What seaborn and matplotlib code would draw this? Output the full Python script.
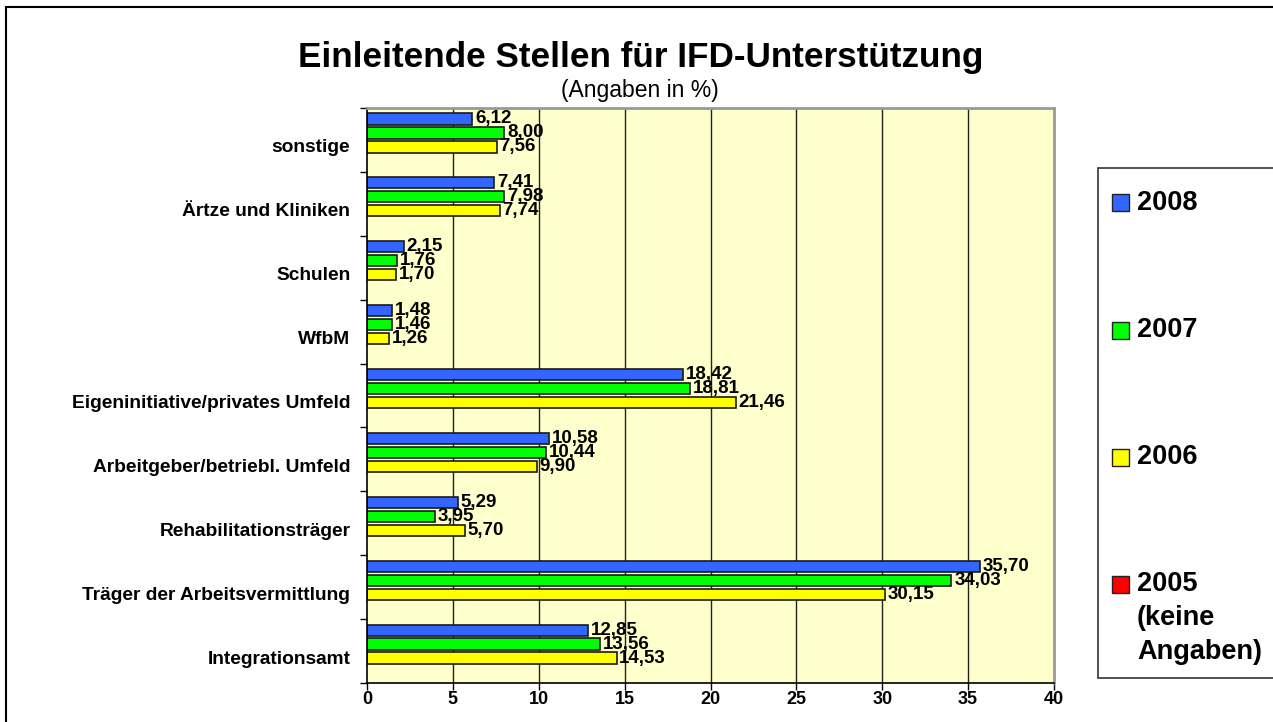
import numpy as np
import pandas as pd
import seaborn as sns
import matplotlib.pyplot as plt
import matplotlib.transforms as mtransforms
from matplotlib.patches import Rectangle

# Daten
stellen = [
    "sonstige",
    "Ärtze und Kliniken",
    "Schulen",
    "WfbM",
    "Eigeninitiative/privates Umfeld",
    "Arbeitgeber/betriebl. Umfeld",
    "Rehabilitationsträger",
    "Träger der Arbeitsvermittlung",
    "Integrationsamt",
]
jahre = ["2008", "2007", "2006", "2005"]
werte_2008 = [6.12, 7.41, 2.15, 1.48, 18.42, 10.58, 5.29, 35.70, 12.85]
werte_2007 = [8.00, 7.98, 1.76, 1.46, 18.81, 10.44, 3.95, 34.03, 13.56]
werte_2006 = [7.56, 7.74, 1.70, 1.26, 21.46, 9.90, 5.70, 30.15, 14.53]
werte_2005 = [np.nan] * len(stellen)  # keine Angaben
legend_labels = ["2008", "2007", "2006", "2005\n(keine\nAngaben)"]
x_ticks = [0, 5, 10, 15, 20, 25, 30, 35, 40]

farben = {"2008": "#3366FF", "2007": "#00FF00", "2006": "#FFFF00", "2005": "#FF0000"}

df = pd.DataFrame({
    "Stelle": stellen * 4,
    "Jahr": np.repeat(jahre, len(stellen)),
    "Wert": werte_2008 + werte_2007 + werte_2006 + werte_2005,
})

sns.set_theme(style="white")
plt.rcParams["font.family"] = ["Liberation Sans", "DejaVu Sans"]
plt.rcParams["text.color"] = "black"
plt.rcParams["xtick.color"] = "black"
plt.rcParams["ytick.color"] = "black"

W, H = 1273, 722
fig = plt.figure(figsize=(W / 100, H / 100), dpi=100)
ax = fig.add_axes([367 / W, 1 - 683 / H, (1054 - 367) / W, (683 - 108) / H])
ax.set_facecolor("#FFFFCC")

sns.barplot(
    data=df, x="Wert", y="Stelle", hue="Jahr",
    order=stellen, hue_order=jahre, palette=farben, saturation=1,
    orient="h", width=0.875, gap=0.2,
    edgecolor="#1a1a1a", linewidth=1.2,
    errorbar=None, legend=False, ax=ax,
)

# Werte an den Balken
shift_lab = mtransforms.ScaledTranslation(0, -0.035, fig.dpi_scale_trans)
for cont in ax.containers:
    if len(cont) == 0:
        continue
    texts = ax.bar_label(
        cont, fmt=lambda v: f"{v:.2f}".replace(".", ","),
        padding=2, fontsize=13.5, fontweight="bold", color="black",
    )
    for t in texts:
        t.set_transform(t.get_transform() + shift_lab)

# Gitter und Achsen
ax.set_xlim(0, 40)
ax.set_ylim(len(stellen) - 0.5, -0.5)
ax.set_xticks(x_ticks)
ax.set_xticklabels([str(t) for t in x_ticks], fontsize=13, fontweight="bold")
for t in x_ticks[1:-1]:
    ax.axvline(t, color="#222222", lw=1, zorder=0.5)
ax.set_axisbelow(True)

ax.set_yticks(np.arange(-0.5, len(stellen), 1.0), minor=True)
ax.tick_params(axis="y", which="minor", left=True, length=5, width=1, color="black", direction="out")
ax.tick_params(axis="y", which="major", left=False, length=0, pad=12)
ax.tick_params(axis="x", which="major", bottom=True, length=5, width=1, color="black", direction="out", pad=1)
ax.set_yticklabels(stellen, fontsize=13.8, fontweight="bold")
shift = mtransforms.ScaledTranslation(0, -0.06, fig.dpi_scale_trans)
for lab in ax.get_yticklabels():
    lab.set_transform(lab.get_transform() + shift)
ax.set_xlabel("")
ax.set_ylabel("")

for s in ["left", "bottom"]:
    ax.spines[s].set_color("black")
    ax.spines[s].set_linewidth(1.2)
for s in ["top", "right"]:
    ax.spines[s].set_color("#999999")
    ax.spines[s].set_linewidth(2)

# Titel
fig.text(641 / W, 1 - 57 / H, "Einleitende Stellen für IFD-Unterstützung",
         ha="center", va="center", fontsize=25.3, fontweight="bold")
fig.text(640 / W, 1 - 91 / H, "(Angaben in %)", ha="center", va="center", fontsize=16.5)

# Legende
fig.patches.append(Rectangle((1098 / W, 1 - 678 / H), (1290 - 1098) / W, (678 - 168) / H,
                             transform=fig.transFigure, facecolor="white",
                             edgecolor="#333333", lw=1.2, zorder=1))
for i, (jahr, label) in enumerate(zip(jahre, legend_labels)):
    yc = 203 + i * 127
    fig.patches.append(Rectangle((1112 / W, 1 - (yc + 8.5) / H), 17 / W, 17 / H,
                                 transform=fig.transFigure, facecolor=farben[jahr],
                                 edgecolor="#222222", lw=1, zorder=2))
    for k, line in enumerate(label.split("\n")):
        fig.text(1137 / W, 1 - (yc + k * 34) / H, line, ha="left", va="center",
                 fontsize=19.5, fontweight="bold", zorder=3)

# Rahmen
fig.patches.append(Rectangle((6 / W, -0.05), 1.1, 1 - 7 / H + 0.05,
                             transform=fig.transFigure, fill=False,
                             edgecolor="black", lw=1.5, zorder=0))

fig.savefig("out.png", dpi=100)
